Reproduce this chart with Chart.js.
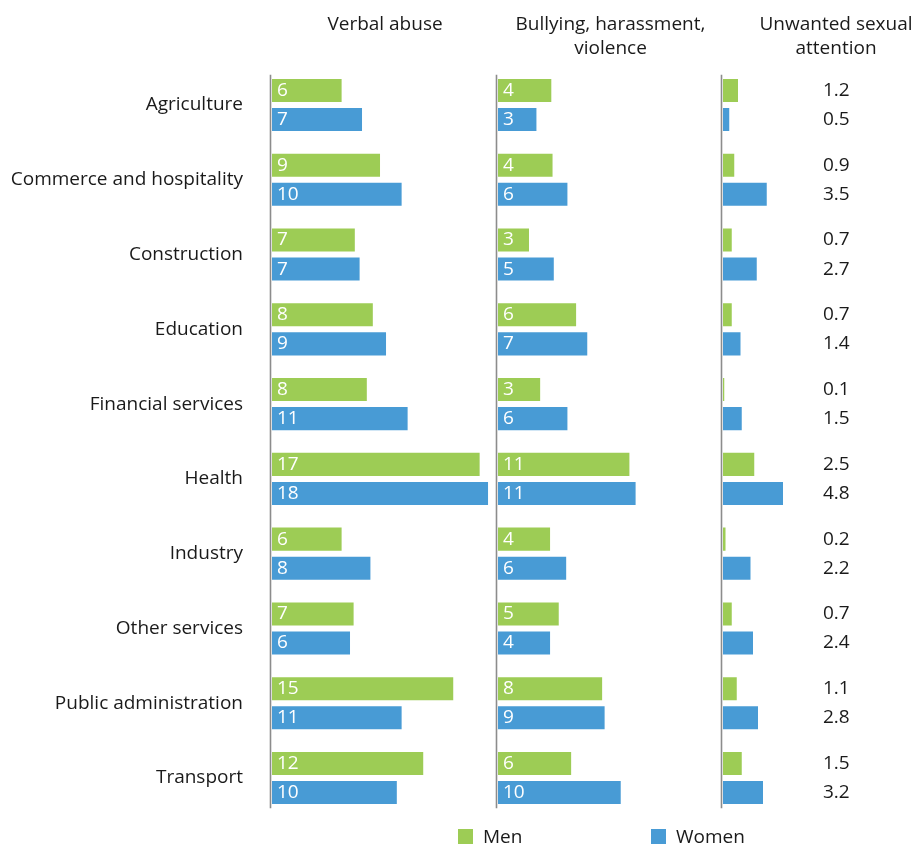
<!DOCTYPE html>
<html>
<head>
<meta charset="utf-8">
<title>Adverse social behaviour by sector and gender</title>
<script src="https://cdn.jsdelivr.net/npm/chart.js@4/dist/chart.umd.min.js"></script>
<style>
    html, body {
        margin: 0;
        padding: 0;
        background: #fff;
        overflow: hidden;
    }
    #wrap {
        position: relative;
        width: 949px;
        height: 845px;
    }
    #legend {
        position: absolute;
        left: 458px;
        top: 826px;
        display: flex;
        font-family: "Open Sans", sans-serif;
        font-size: 19px;
        color: #1a1a1a;
    }
    #legend .item {
        width: 193px;
        display: flex;
        align-items: center;
        height: 20px;
    }
    #legend .swatch {
        width: 15px;
        height: 15px;
        margin-right: 10px;
    }
</style>
</head>
<body>
<div id="wrap">
    <canvas id="chart"></canvas>
    <div id="legend"></div>
</div>
<script>
const categories = ['Agriculture', 'Commerce and hospitality', 'Construction', 'Education',
    'Financial services', 'Health', 'Industry', 'Other services', 'Public administration', 'Transport'];
const seriesNames = ['Men', 'Women'];
const panelTitles = [['Verbal abuse'], ['Bullying, harassment,', 'violence'], ['Unwanted sexual', 'attention']];

// bar lengths, printed labels kept as shown
const verbalMen = [5.8, 9.0, 6.9, 8.4, 7.9, 17.3, 5.8, 6.8, 15.1, 12.6];
const verbalWomen = [7.5, 10.8, 7.3, 9.5, 11.3, 18.0, 8.2, 6.5, 10.8, 10.4];
const verbalMenLabels = [6, 9, 7, 8, 8, 17, 6, 7, 15, 12];
const verbalWomenLabels = [7, 10, 7, 9, 11, 18, 8, 6, 11, 10];

const bullyingMen = [4.3, 4.4, 2.5, 6.3, 3.4, 10.6, 4.2, 4.9, 8.4, 5.9];
const bullyingWomen = [3.1, 5.6, 4.5, 7.2, 5.6, 11.1, 5.5, 4.2, 8.6, 9.9];
const bullyingMenLabels = [4, 4, 3, 6, 3, 11, 4, 5, 8, 6];
const bullyingWomenLabels = [3, 6, 5, 7, 6, 11, 6, 4, 9, 10];

const sexualMen = [1.2, 0.9, 0.7, 0.7, 0.1, 2.5, 0.2, 0.7, 1.1, 1.5];
const sexualWomen = [0.5, 3.5, 2.7, 1.4, 1.5, 4.8, 2.2, 2.4, 2.8, 3.2];

const MEN_COLOR = '#9dcc55';
const WOMEN_COLOR = '#489bd5';
const TEXT_COLOR = '#1a1a1a';
const AXIS_COLOR = '#8c8c8c';
const FONT_FAMILY = '"Open Sans", sans-serif';
const FONT_SIZE = 19;

Chart.defaults.font.family = FONT_FAMILY;
Chart.defaults.font.size = FONT_SIZE;
Chart.defaults.color = TEXT_COLOR;

// vertical base line at the left of each panel
const panelAxisLines = {
    id: 'panelAxisLines',
    beforeDatasetsDraw(chart) {
        const ctx = chart.ctx;
        const area = chart.chartArea;
        ctx.save();
        ctx.strokeStyle = AXIS_COLOR;
        ctx.lineWidth = 1.6;
        ['x1', 'x2', 'x3'].forEach(id => {
            const x = chart.scales[id].left - 1.5;
            ctx.beginPath();
            ctx.moveTo(x, area.top + 7);
            ctx.lineTo(x, area.bottom - 7);
            ctx.stroke();
        });
        ctx.restore();
    }
};

// numbers inside the bars, or in a column right of the last panel
const barValueLabels = {
    id: 'barValueLabels',
    afterDatasetsDraw(chart) {
        const ctx = chart.ctx;
        ctx.save();
        ctx.font = FONT_SIZE + 'px ' + FONT_FAMILY;
        ctx.textBaseline = 'middle';
        ctx.textAlign = 'left';
        chart.data.datasets.forEach((ds, i) => {
            const meta = chart.getDatasetMeta(i);
            const scale = chart.scales[ds.xAxisID];
            meta.data.forEach((bar, j) => {
                const text = String(ds.valueLabels[j]);
                if (ds.labelsOutside) {
                    ctx.fillStyle = TEXT_COLOR;
                    ctx.fillText(text, scale.left + 100, bar.y);
                } else {
                    ctx.fillStyle = '#ffffff';
                    ctx.fillText(text, bar.base + 5, bar.y);
                }
            });
        });
        ctx.restore();
    }
};

function makeDataset(label, data, labels, color, axisId, outside) {
    return {
        label: label,
        data: data,
        valueLabels: labels,
        labelsOutside: outside,
        backgroundColor: color,
        borderWidth: 0,
        xAxisID: axisId,
        stack: label,
        categoryPercentage: 0.7768,
        barPercentage: 0.793
    };
}

function panelScale(title, max, weight, twoLines) {
    return {
        type: 'linear',
        position: 'top',
        stack: 'panels',
        stackWeight: weight,
        stacked: false,
        min: 0,
        max: max,
        grid: { display: false, drawTicks: false },
        border: { display: false },
        ticks: { display: false },
        title: {
            display: true,
            text: title,
            color: TEXT_COLOR,
            font: { size: FONT_SIZE, lineHeight: 1.263 },
            padding: { top: 13, bottom: twoLines ? 6.67 : 30.67 }
        }
    };
}

const fmt = v => v.toFixed(1);

const datasets = [
    makeDataset(seriesNames[0], verbalMen, verbalMenLabels, MEN_COLOR, 'x1', false),
    makeDataset(seriesNames[1], verbalWomen, verbalWomenLabels, WOMEN_COLOR, 'x1', false),
    makeDataset(seriesNames[0], bullyingMen, bullyingMenLabels, MEN_COLOR, 'x2', false),
    makeDataset(seriesNames[1], bullyingWomen, bullyingWomenLabels, WOMEN_COLOR, 'x2', false),
    makeDataset(seriesNames[0], sexualMen, sexualMen.map(fmt), MEN_COLOR, 'x3', true),
    makeDataset(seriesNames[1], sexualWomen, sexualWomen.map(fmt), WOMEN_COLOR, 'x3', true)
];

new Chart(document.getElementById('chart'), {
    type: 'bar',
    data: {
        labels: categories,
        datasets: datasets
    },
    options: {
        indexAxis: 'y',
        responsive: true,
        maintainAspectRatio: false,
        animation: false,
        layout: {
            padding: { top: 0, right: 0, bottom: 29.67, left: 0 }
        },
        plugins: {
            legend: { display: false },
            title: { display: false },
            tooltip: { enabled: false }
        },
        scales: {
            y: {
                // the gap to the labels comes from an invisible tick length,
                // ticks.padding would also pad the plot area at top and bottom
                grid: { display: false, drawTicks: true, tickLength: 29 },
                border: { display: false },
                ticks: {
                    color: TEXT_COLOR,
                    padding: 0,
                    autoSkip: false
                },
                afterFit(scale) {
                    scale.width = 272;
                }
            },
            // top boxes are laid out last-first, so the rightmost panel is listed first
            x3: panelScale(panelTitles[2], 18.08, 226, true),
            x2: panelScale(panelTitles[1], 18.15, 225, true),
            x1: panelScale(panelTitles[0], 18.83, 226, false)
        }
    },
    plugins: [panelAxisLines, barValueLabels]
});

// legend
const legendEl = document.getElementById('legend');
[MEN_COLOR, WOMEN_COLOR].forEach((color, i) => {
    const item = document.createElement('div');
    item.className = 'item';
    const swatch = document.createElement('span');
    swatch.className = 'swatch';
    swatch.style.background = color;
    item.appendChild(swatch);
    item.appendChild(document.createTextNode(seriesNames[i]));
    legendEl.appendChild(item);
});
</script>
</body>
</html>
